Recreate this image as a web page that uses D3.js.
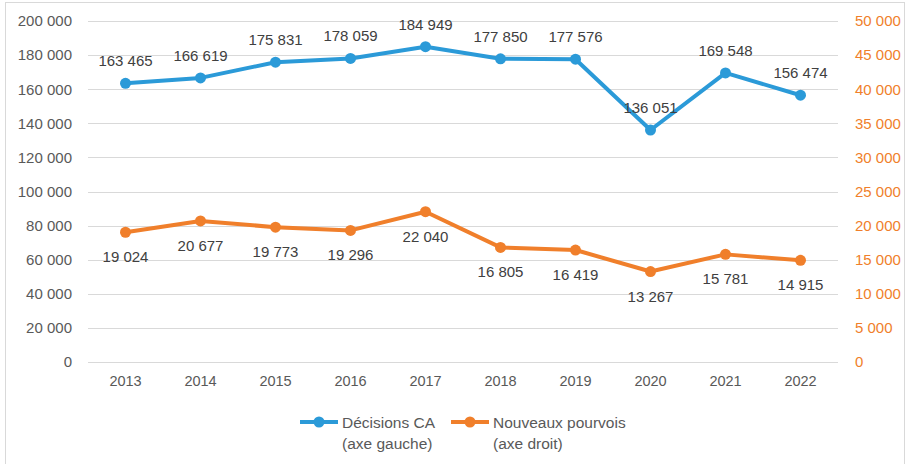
<!DOCTYPE html>
<html>
<head>
<meta charset="utf-8">
<script src="https://cdn.jsdelivr.net/npm/d3@7"></script>
<style>
  body { margin: 0; background: #fff; }
  svg { font-family: "Liberation Sans", Arial, sans-serif; }
</style>
</head>
<body>
<div id="chart"></div>
<script>
// Data
const years = ["2013", "2014", "2015", "2016", "2017", "2018", "2019", "2020", "2021", "2022"];
const decisionsCA = [163465, 166619, 175831, 178059, 184949, 177850, 177576, 136051, 169548, 156474];
const nouveauxPourvois = [19024, 20677, 19773, 19296, 22040, 16805, 16419, 13267, 15781, 14915];
const leftTicks = [0, 20000, 40000, 60000, 80000, 100000, 120000, 140000, 160000, 180000, 200000];
const rightTicks = [0, 5000, 10000, 15000, 20000, 25000, 30000, 35000, 40000, 45000, 50000];
const legendNames = [["Décisions CA", "(axe gauche)"], ["Nouveaux pourvois", "(axe droit)"]];

const blue = "#2B9AD8", orange = "#F07F2B";

const W = 908, H = 464;
const margin = { top: 21, right: 70, bottom: 102, left: 88 };
const width = W - margin.left - margin.right,
      height = H - margin.top - margin.bottom;

const fr = d3.formatLocale({ decimal: ",", thousands: " ", grouping: [3], currency: ["", " €"] });
const fmt = fr.format(",d");

const svg = d3.select("#chart").append("svg")
    .attr("width", W)
    .attr("height", H);

// outer frame
svg.append("rect")
    .attr("x", 5.5).attr("y", 2.5)
    .attr("width", 899).attr("height", 470)
    .attr("fill", "none").attr("stroke", "#D9D9D9");

const g = svg.append("g").attr("transform", `translate(${margin.left},${margin.top})`);

const x = d3.scaleBand().domain(years).range([0, width]);
const yL = d3.scaleLinear().domain([0, 200000]).range([height, 0]);
const yR = d3.scaleLinear().domain([0, 50000]).range([height, 0]);
const cx = d => x(d) + x.bandwidth() / 2;

// gridlines
g.append("g")
  .selectAll("line").data(leftTicks).join("line")
    .attr("x1", 0).attr("x2", width)
    .attr("y1", d => Math.round(yL(d)) + 0.5).attr("y2", d => Math.round(yL(d)) + 0.5)
    .attr("stroke", "#D9D9D9").attr("stroke-width", 1);

// left axis
const axL = g.append("g")
    .call(d3.axisLeft(yL).tickValues(leftTicks).tickFormat(fmt).tickSize(0).tickPadding(16));
axL.select(".domain").remove();
axL.selectAll("text").attr("fill", "#595959").style("font-size", "15px");

// right axis
const axR = g.append("g").attr("transform", `translate(${width},0)`)
    .call(d3.axisRight(yR).tickValues(rightTicks).tickFormat(fmt).tickSize(0).tickPadding(17));
axR.select(".domain").remove();
axR.selectAll("text").attr("fill", orange).style("font-size", "15px");

// x axis
const axX = g.append("g").attr("transform", `translate(0,${height})`)
    .call(d3.axisBottom(x).tickSize(0).tickPadding(14));
axX.select(".domain").remove();
axX.selectAll("text").attr("fill", "#595959").style("font-size", "14.5px");

// series
const series = [
  { values: decisionsCA, y: yL, color: blue, dy: -17 },
  { values: nouveauxPourvois, y: yR, color: orange, dy: 30 }
];

series.forEach(s => {
  const pts = years.map((yr, i) => ({ yr, v: s.values[i] }));
  g.append("path")
    .datum(pts)
    .attr("fill", "none")
    .attr("stroke", s.color)
    .attr("stroke-width", 4)
    .attr("stroke-linejoin", "round")
    .attr("d", d3.line().x(d => cx(d.yr)).y(d => s.y(d.v)));
  g.selectAll(null).data(pts).join("circle")
    .attr("cx", d => cx(d.yr)).attr("cy", d => s.y(d.v))
    .attr("r", 5.5).attr("fill", s.color);
  g.selectAll(null).data(pts).join("text")
    .attr("x", d => cx(d.yr)).attr("y", d => s.y(d.v) + s.dy)
    .attr("text-anchor", "middle")
    .attr("fill", "#404040")
    .style("font-size", "15px")
    .text(d => fmt(d.v));
});

// legend
const legend = svg.append("g").attr("transform", "translate(300,422)");
const legX = [0, 151];
legendNames.forEach((names, i) => {
  const lg = legend.append("g").attr("transform", `translate(${legX[i]},0)`);
  lg.append("line").attr("x1", 0).attr("x2", 38).attr("y1", 0).attr("y2", 0)
    .attr("stroke", series[i].color).attr("stroke-width", 4);
  lg.append("circle").attr("cx", 19).attr("cy", 0).attr("r", 5.5).attr("fill", series[i].color);
  lg.selectAll("text").data(names).join("text")
    .attr("x", 42).attr("y", (d, j) => 5.5 + j * 21)
    .attr("fill", "#595959")
    .style("font-size", "15.5px")
    .text(d => d);
});
</script>
</body>
</html>
